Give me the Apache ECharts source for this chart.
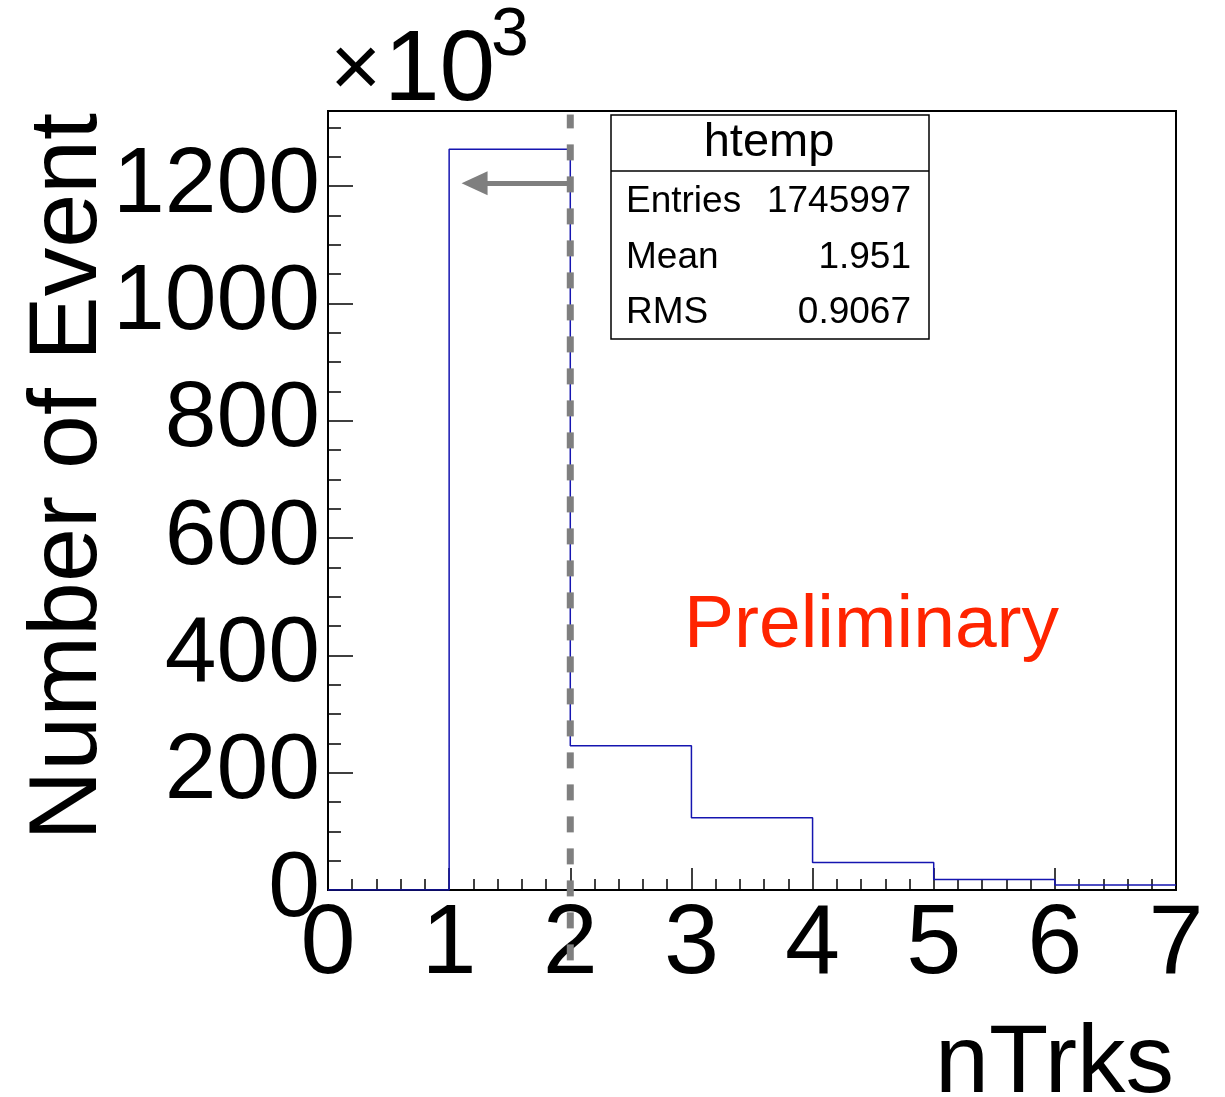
<!DOCTYPE html>
<html><head><meta charset="utf-8">
<script src="https://cdn.jsdelivr.net/npm/echarts@6/dist/echarts.min.js"></script>
<style>html,body{margin:0;padding:0;background:#fff}#c{width:1225px;height:1097px}</style>
</head><body><div id="c"></div>
<script>
// Histogram data (counts in units of 10^3)
const binEdges = [0, 1, 2, 3, 4, 5, 6, 7];
const counts = [0, 1263, 246, 123, 47, 18, 8.5];
const xTickLabels = ['0','1','2','3','4','5','6','7'];
const yTickValues = [0, 200, 400, 600, 800, 1000, 1200];
const cutValue = 2;
const cutLineRange = [-120, 1322];
const arrowFrom = [2, 1205];
const arrowTo = [1.21, 1205];
const statsTitle = 'htemp';
const statsLabels = ['Entries', 'Mean', 'RMS'];
const statsValues = ['1745997', '1.951', '0.9067'];

const FONT = '"Liberation Sans", Arial, Helvetica, sans-serif';
const stepData = binEdges.map((e, i) => [e, counts[Math.min(i, counts.length - 1)]]);

const chart = echarts.init(document.getElementById('c'), null, {renderer: 'canvas'});
const option = {
  animation: false,
  backgroundColor: '#fff',
  grid: {left: 328, right: 49, top: 111, bottom: 207, show: true, borderColor: '#000', borderWidth: 2, backgroundColor: 'transparent'},
  xAxis: {
    type: 'value', min: 0, max: 7, interval: 1,
    axisLine: {show: true, onZero: false, lineStyle: {color: '#000', width: 2}},
    axisTick: {show: true, inside: true, length: 22, lineStyle: {color: '#000', width: 1.5}},
    minorTick: {show: true, splitNumber: 5, length: 11, lineStyle: {color: '#000', width: 1.5}},
    splitLine: {show: false},
    axisLabel: {fontFamily: FONT, fontSize: 99, color: '#000', margin: 6,
      formatter: v => xTickLabels[Math.round(v)] ?? ''}
  },
  yAxis: {
    type: 'value', min: 0, max: 1328, interval: 200,
    axisLine: {show: true, onZero: false, lineStyle: {color: '#000', width: 2}},
    axisTick: {show: true, inside: true, length: 25, lineStyle: {color: '#000', width: 1.5}},
    minorTick: {show: true, splitNumber: 4, length: 13, lineStyle: {color: '#000', width: 1.5}},
    splitLine: {show: false},
    axisLabel: {fontFamily: FONT, fontSize: 93, color: '#000', margin: 8, showMaxLabel: false,
      formatter: v => yTickValues.includes(v) ? String(v) : ''}
  },
  series: [
    {
      type: 'line', step: 'end', symbol: 'none', data: stepData,
      lineStyle: {color: '#1515b0', width: 1.5}, z: 3
    },
    {
      type: 'line', symbol: 'none', clip: false,
      data: [[cutValue, cutLineRange[0]], [cutValue, cutLineRange[1]]],
      lineStyle: {color: '#7f7f7f', width: 7, type: [16, 16]}, z: 4,
      markLine: {
        silent: true, animation: false,
        symbol: ['none', 'triangle'], symbolSize: [24, 26],
        label: {show: false},
        lineStyle: {color: '#7f7f7f', width: 5, type: 'solid'},
        data: [[{coord: arrowFrom}, {coord: arrowTo}]]
      }
    }
  ],
  graphic: [
    {type: 'text', left: 330, top: 28, style: {text: '×', font: '88px ' + FONT, fill: '#000'}},
    {type: 'text', left: 384, top: 22, style: {text: '10', font: '100px ' + FONT, fill: '#000'}},
    {type: 'text', left: 491, top: 2, style: {text: '3', font: '68px ' + FONT, fill: '#000'}},
    {type: 'text', x: 118, y: 113, rotation: Math.PI / 2,
      style: {text: 'Number of Event', font: '97px ' + FONT, fill: '#000', align: 'right', verticalAlign: 'bottom'}},
    {type: 'text', x: 1174, y: 1114, style: {text: 'nTrks', font: '97px ' + FONT, fill: '#000', align: 'right', verticalAlign: 'bottom'}},
    {type: 'text', x: 684, y: 626, style: {text: 'Preliminary', font: '75px ' + FONT, fill: '#ff2400', align: 'left', verticalAlign: 'middle'}},
    {type: 'rect', shape: {x: 611, y: 115, width: 318, height: 224}, style: {fill: '#fff', stroke: '#000', lineWidth: 1.5}, z: 10},
    {type: 'line', shape: {x1: 611, y1: 171, x2: 929, y2: 171}, style: {stroke: '#000', lineWidth: 1.5}, z: 11},
    {type: 'text', x: 769, y: 143, z: 12, style: {text: statsTitle, font: '47px ' + FONT, fill: '#000', align: 'center', verticalAlign: 'middle'}},
    ...statsLabels.map((t, i) => ({type: 'text', x: 626, y: 202 + i * 55.5, z: 12,
      style: {text: t, font: '37px ' + FONT, fill: '#000', align: 'left', verticalAlign: 'middle'}})),
    ...statsValues.map((t, i) => ({type: 'text', x: 911, y: 202 + i * 55.5, z: 12,
      style: {text: t, font: '37px ' + FONT, fill: '#000', align: 'right', verticalAlign: 'middle'}}))
  ]
};
chart.setOption(option);
</script></body></html>
